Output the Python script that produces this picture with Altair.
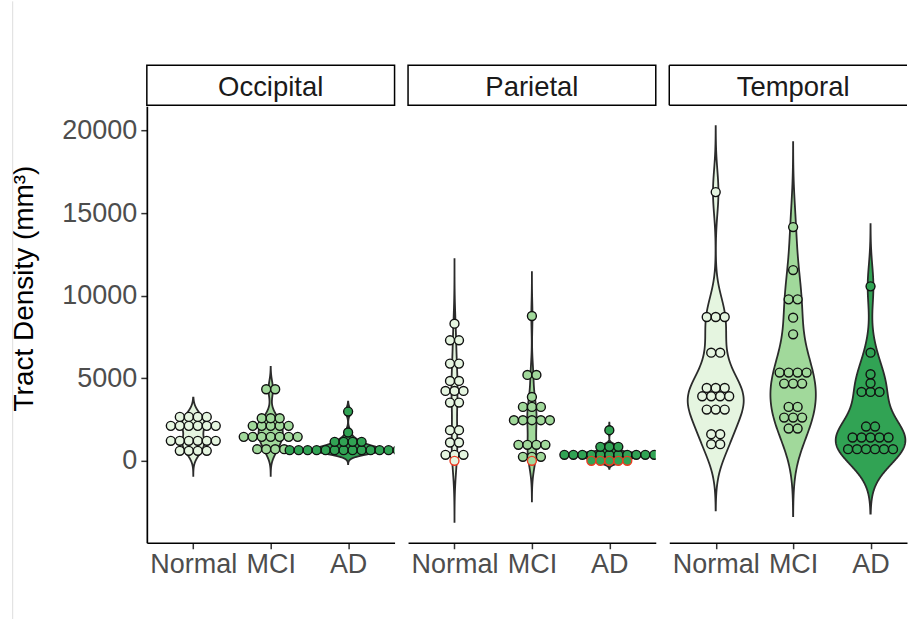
import json

import altair as alt
import numpy as np
import pandas as pd

FONT = "Liberation Sans"

regions = ["Occipital", "Parietal", "Temporal"]
groups = ["Normal", "MCI", "AD"]
fills = ["#E5F5E0", "#A1D99B", "#31A354"]

# Tract density per subject (mm^3), one entry per dot
occipital_normal = [2661, 2661, 2661, 2661, 2117, 2117, 2117, 2117, 2117, 2117,
                    1210, 1210, 1210, 1210, 1210, 1210, 605, 605, 605, 605]
occipital_mci = [4335, 4335, 2580, 2580, 2580, 2117, 2117, 2117, 2117, 2117,
                 1451, 1451, 1451, 1451, 1451, 1451, 1451, 706, 706, 706, 706]
occipital_ad = [2983, 1714, 1149, 1149, 1149, 1149,
                647, 647, 647, 647, 647, 647, 647, 647, 647, 647, 647, 647, 647, 647]

parietal_normal = [8305, 7298, 7298, 5886, 5886, 4838, 4838, 4233, 4233, 4233,
                   3527, 3527, 1855, 1855, 1109, 1109, 363, 363, 363, 0]
parietal_mci = [8769, 5201, 5201, 3870, 3266, 3266, 3266, 2459, 2459, 2459,
                2459, 2459, 968, 968, 968, 968, 242, 242, 242, 0]
parietal_ad = [1855, 847, 847, 847, 363, 363, 363, 363, 363, 363,
               363, 363, 363, 363, 363, 0, 0, 0, 0, 0]

temporal_normal = [16269, 8709, 8709, 8709, 6550, 6550, 4415, 4415, 4415, 3911,
                   3911, 3911, 3911, 3104, 3104, 3104, 1613, 1613, 1008, 1008]
temporal_mci = [14152, 11551, 9776, 9776, 8669, 7661, 5342, 5342, 5342, 5342,
                4677, 4677, 4677, 3266, 3266, 2620, 2620, 2620, 1955, 1955]
temporal_ad = [10563, 6550, 5241, 4697, 4173, 4173, 4173, 2076, 2076, 1411,
               1411, 1411, 1411, 1411, 706, 706, 706, 706, 706, 706]

# Lower / upper end of each violin (density range), mm^3
violin_lo = {"Occipital": [-907, -907, -200],
             "Parietal": [-3700, -2450, -484],
             "Temporal": [-3000, -3350, -3200]}
violin_hi = {"Occipital": [3830, 5685, 3588],
             "Parietal": [12217, 11430, 2316],
             "Temporal": [20260, 19290, 14333]}

values = {
    "Occipital": [occipital_normal, occipital_mci, occipital_ad],
    "Parietal": [parietal_normal, parietal_mci, parietal_ad],
    "Temporal": [temporal_normal, temporal_mci, temporal_ad],
}

PX_PER_UNIT = 77.5          # pixels per category step
DOT_STEP = 9.0 / PX_PER_UNIT  # horizontal spacing of stacked dots
PLOT_H = 437
Y_DOMAIN = [-4960, 21470]
widths = [248, 248, 238]


def density_curve(vals, lo, hi, n=512):
    v = np.asarray(vals, dtype=float)
    bw = ((hi - lo) - (v.max() - v.min())) / 6.0
    grid = np.linspace(lo, hi, n)
    z = (grid[:, None] - v[None, :]) / bw
    dens = np.exp(-0.5 * z * z).sum(axis=1) / (len(v) * bw * np.sqrt(2 * np.pi))
    return grid, dens


violin_rows, dot_rows = [], []
for region in regions:
    curves = []
    for gi, g in enumerate(groups):
        ys, dens = density_curve(values[region][gi], violin_lo[region][gi], violin_hi[region][gi])
        curves.append((gi, g, ys, dens))
    peak = max(c[3].max() for c in curves)  # area scaling within a panel
    for gi, g, ys, dens in curves:
        half = 0.45 * dens / peak
        for y, h in zip(ys, half):
            violin_rows.append({"region": region, "group": g, "y": float(y),
                                "left": gi - float(h), "right": gi + float(h)})
        vals = values[region][gi]
        for v in sorted(set(vals)):
            n = vals.count(v)
            for k in range(n):
                dot_rows.append({"region": region, "group": g, "value": v,
                                 "xpos": gi + (k - (n - 1) / 2) * DOT_STEP,
                                 "edge": "zero" if v == 0 else "other"})

violin_df = pd.DataFrame(violin_rows)
dot_df = pd.DataFrame(dot_rows)
dot_df["zorder"] = (dot_df["edge"] == "zero").astype(int)
dot_df = dot_df.sort_values("zorder", kind="stable")

fill_scale = alt.Scale(domain=groups, range=fills)
label_expr = json.dumps(groups) + "[datum.value]"


def panel(idx, region):
    w = widths[idx]
    xs = alt.Scale(domain=[-0.6, -0.6 + w / PX_PER_UNIT], nice=False, zero=False)
    ys = alt.Scale(domain=Y_DOMAIN, nice=False, zero=False)
    x_axis = alt.Axis(values=[0, 1, 2], labelExpr=label_expr, title=None, grid=False,
                      labelFontSize=27, labelFont=FONT, labelColor="#4D4D4D",
                      labelPadding=3, labelFlush=False, labelOverlap=False,
                      tickSize=6, tickColor="#333333", tickWidth=1.5,
                      domainColor="black", domainWidth=1.7)
    if idx == 0:
        y_axis = alt.Axis(values=[0, 5000, 10000, 15000, 20000], format="d",
                          title="Tract Density (mm³)", grid=False,
                          labelFontSize=27, labelFont=FONT, labelColor="#4D4D4D",
                          labelPadding=4, tickSize=6, tickColor="#333333", tickWidth=1.5,
                          domainColor="black", domainWidth=1.7,
                          titleFont=FONT, titleFontSize=28, titleColor="black",
                          titleFontWeight="normal", titleX=-114.5, titleY=182,
                          titleAlign="center", titleBaseline="alphabetic")
    else:
        y_axis = None

    vdata = violin_df[violin_df.region == region]
    ddata = dot_df[dot_df.region == region]

    violins = alt.Chart(vdata).mark_area(
        orient="horizontal", stroke="#2B2B2B", strokeWidth=1.8, clip=True
    ).encode(
        y=alt.Y("y:Q", scale=ys, axis=y_axis),
        x=alt.X("left:Q", scale=xs, axis=x_axis),
        x2="right:Q",
        fill=alt.Fill("group:N", scale=fill_scale, legend=None),
        detail="group:N",
    )

    dots = alt.Chart(ddata).mark_circle(
        size=80, strokeWidth=1.4, opacity=1, clip=True
    ).encode(
        y=alt.Y("value:Q", scale=ys, axis=y_axis),
        x=alt.X("xpos:Q", scale=xs, axis=x_axis),
        fill=alt.Fill("group:N", scale=fill_scale, legend=None),
        stroke=alt.Stroke("edge:N", scale=alt.Scale(domain=["other", "zero"],
                                                     range=["#111111", "#EE3B22"]),
                          legend=None),
    )

    label = pd.DataFrame({"label": [region]})
    strip_fill = alt.Chart(label).mark_rect(
        fill="white", stroke="black" if idx < 2 else None, strokeWidth=1.5
    ).encode(x=alt.value(0), x2=alt.value(w), y=alt.value(-41), y2=alt.value(-1))
    layers = [strip_fill]
    if idx == 2:
        edges = pd.DataFrame({"x": [0, 0, 0], "x2": [w, 0, w],
                              "y": [-41, -41, -1], "y2": [-41, -1, -1]})
        for _, e in edges.iterrows():
            layers.append(alt.Chart(label).mark_rule(color="black", strokeWidth=1.5).encode(
                x=alt.value(e.x), x2=alt.value(e.x2),
                y=alt.value(e.y), y2=alt.value(e.y2)))
    strip_text = alt.Chart(label).mark_text(
        font=FONT, fontSize=27.5, color="#1A1A1A", baseline="alphabetic", align="center"
    ).encode(x=alt.value(124), y=alt.value(-10), text="label:N")
    layers.append(strip_text)

    # page edge line on the far left; invisible twins keep panels aligned
    edge_line = alt.Chart(label).mark_rule(
        color="#DDDDDD", strokeWidth=1, strokeOpacity=1 if idx == 0 else 0
    ).encode(x=alt.value(-134.3 if idx == 0 else w / 2), y=alt.value(-105), y2=alt.value(514))
    layers.append(edge_line)

    layers += [violins, dots]
    return alt.layer(*layers).properties(width=w, height=PLOT_H)


chart = alt.hconcat(*[panel(i, r) for i, r in enumerate(regions)], spacing=11.5).properties(
    padding={"left": 10, "top": 0, "right": 0, "bottom": 0}
).configure(background="white").configure_view(stroke=None)

chart.save("out.html", embed_options={"renderer": "svg", "actions": False})
